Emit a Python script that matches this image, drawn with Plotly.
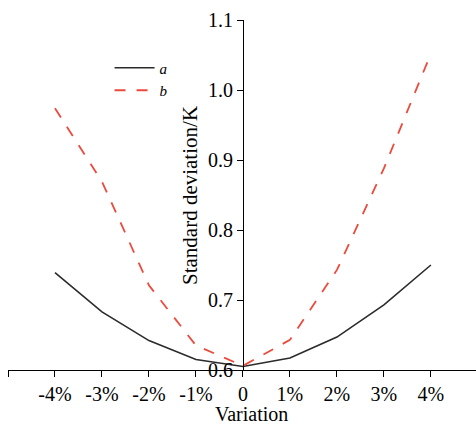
import plotly.graph_objects as go

# Variation (%) and standard deviation (K) of the two cases
variation = [-4, -3, -2, -1, 0, 1, 2, 3, 4]
std_a = [0.739, 0.683, 0.642, 0.615, 0.605, 0.617, 0.647, 0.693, 0.750]
std_b = [0.974, 0.869, 0.721, 0.635, 0.606, 0.643, 0.743, 0.888, 1.052]

x_tickvals = [-5, -4, -3, -2, -1, 0, 1, 2, 3, 4, 5]
x_ticktext = ["", "-4%", "-3%", "-2%", "-1%", "0", "1%", "2%", "3%", "4%", ""]
y_tickvals = [0.6, 0.7, 0.8, 0.9, 1.0, 1.1]
y_ticktext = ["0.6", "0.7", "0.8", "0.9", "1.0", "1.1"]

FONT = "Liberation Serif, Times New Roman, serif"

fig = go.Figure()
fig.add_trace(go.Scatter(
    x=variation, y=std_a, mode="lines", name="<i>a</i>",
    line=dict(color="#2b2b2b", width=1.6),
))
fig.add_trace(go.Scatter(
    x=variation, y=std_b, mode="lines", name="<i>b</i>",
    line=dict(color="#ec4a3c", width=1.8, dash="11px,11px"),
))

fig.update_layout(
    width=476, height=427,
    margin=dict(l=8, r=0, t=20, b=57),
    paper_bgcolor="white", plot_bgcolor="white",
    font=dict(family=FONT, size=20, color="black"),
    showlegend=True,
    legend=dict(
        x=0.217, y=0.91, xanchor="left", yanchor="top",
        bgcolor="rgba(0,0,0,0)", borderwidth=0,
        font=dict(family=FONT, size=15, color="black"),
        itemwidth=40, tracegroupgap=0,
    ),
    xaxis=dict(
        range=[-5, 4.96], tickmode="array",
        tickvals=x_tickvals, ticktext=x_ticktext,
        showgrid=False, zeroline=False,
        showline=True, linecolor="black", linewidth=1.2,
        ticks="outside", ticklen=6, tickwidth=1.2, tickcolor="black",
        tickfont=dict(family=FONT, size=20, color="black"),
    ),
    yaxis=dict(
        range=[0.6, 1.1], tickmode="array",
        tickvals=y_tickvals, ticktext=y_ticktext,
        anchor="free", position=(243 - 8) / 468,
        showgrid=False, zeroline=False,
        showline=True, linecolor="black", linewidth=1.2,
        ticks="outside", ticklen=6, tickwidth=1.2, tickcolor="black",
        tickfont=dict(family=FONT, size=20, color="black"),
    ),
    annotations=[
        dict(text="Standard deviation/K", xref="paper", yref="paper",
             x=(190 - 8) / 468, y=(370 - 196) / 350,
             xanchor="center", yanchor="middle", textangle=-90,
             showarrow=False, font=dict(family=FONT, size=21, color="black")),
        dict(text="Variation", xref="paper", yref="paper",
             x=(251 - 8) / 468, y=(370 - 414) / 350,
             xanchor="center", yanchor="middle",
             showarrow=False, font=dict(family=FONT, size=20, color="black")),
    ],
)

fig.write_html("out.html")
